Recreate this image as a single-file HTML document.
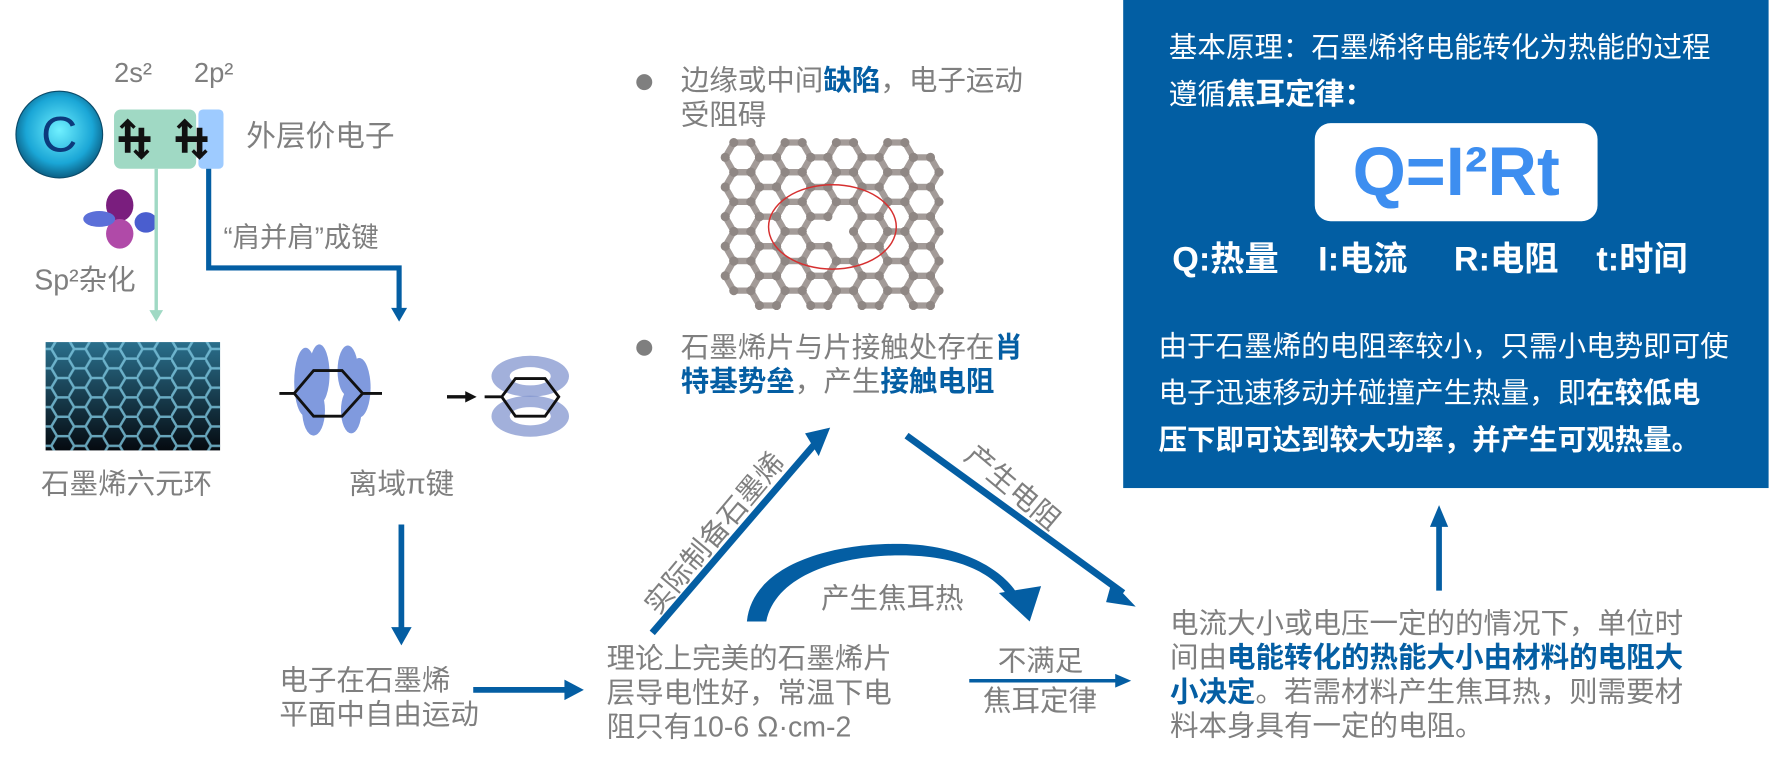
<!DOCTYPE html>
<html><head><meta charset="utf-8">
<style>
body{margin:0;width:1788px;height:765px;background:#fff;position:relative;overflow:hidden;font-family:"Liberation Sans","Noto Sans CJK SC",sans-serif;}
#wrap{position:absolute;left:0;top:0;width:1568px;height:671px;transform:scale(1.1403);transform-origin:0 0;}
.t{position:absolute;color:#7f7f7f;font-size:25px;line-height:30px;white-space:nowrap;}
.b{color:#045ea3;font-weight:bold;}
.w{color:#fff;}
.wb{color:#fff;font-weight:bold;}
svg{position:absolute;left:0;top:0;}
</style></head><body><div id="wrap">
<svg width="1568" height="671">
<defs>
<radialGradient id="cg" cx="50%" cy="45%" r="55%"><stop offset="0" stop-color="#6ff0ff"/><stop offset="0.7" stop-color="#1aa6d6"/><stop offset="1" stop-color="#0b5f84"/></radialGradient>
<pattern id="hx" width="30" height="17" patternUnits="userSpaceOnUse"><path d="M0 8.5 L5 0 L15 0 L20 8.5 L15 17 L5 17 Z M20 8.5 L30 8.5" fill="none" stroke="#7ec7e0" stroke-width="2.2"/></pattern>
<linearGradient id="gd" x1="0" y1="0" x2="0" y2="1"><stop offset="0" stop-color="#2a6f8c"/><stop offset="1" stop-color="#050a10"/></linearGradient>
</defs>
<rect x="985" y="0" width="566" height="428" fill="#025ea3"/>
<rect x="1153" y="108" width="248" height="86" rx="14" fill="#fff"/>
<circle cx="52" cy="118" r="38" fill="url(#cg)" stroke="#0a4b6a" stroke-width="1"/>
<text x="52" y="133" font-size="44" fill="#0c3a7c" text-anchor="middle" font-family="Liberation Sans">C</text>
<rect x="100" y="96" width="72" height="52" rx="6" fill="#a0d9c4"/>
<rect x="174" y="96" width="22" height="52" rx="4" fill="#9ecbff"/>
<g stroke="#111" stroke-width="5" fill="none">
<path d="M104 122 H132 M112 108 V134 M124 112 V138"/>
<path d="M154 122 H182 M162 108 V134 M175 112 V138"/>
</g>
<path d="M106 112 l6 -6 l6 6 M118 132 l6 6 l6 -6 M156 112 l6 -6 l6 6 M169 132 l6 6 l6 -6" stroke="#111" stroke-width="3" fill="none"/>
<ellipse cx="105" cy="180" rx="12" ry="14" fill="#7a1e7e"/>
<ellipse cx="105" cy="205" rx="12" ry="13" fill="#b04aa8"/>
<ellipse cx="87" cy="192" rx="14" ry="7" fill="#5b6fd8"/>
<ellipse cx="128" cy="195" rx="10" ry="9" fill="#4a5ecf"/>
<line x1="137" y1="148" x2="137" y2="274" stroke="#a0d9c4" stroke-width="3"/>
<path d="M131 272 L143 272 L137 282 Z" fill="#a0d9c4"/>
<path d="M183 148 V235 H350 V272" stroke="#045ea3" stroke-width="4.5" fill="none"/>
<path d="M343 270 L357 270 L350 282 Z" fill="#045ea3"/>
<rect x="40" y="300" width="153" height="95" fill="url(#gd)"/>
<rect x="40" y="300" width="153" height="95" fill="url(#hx)" opacity="0.8"/>
<g opacity="0.7" fill="#4a6fd0">
<ellipse cx="268" cy="335" rx="10" ry="30"/><ellipse cx="280" cy="328" rx="9" ry="26"/>
<ellipse cx="275" cy="360" rx="10" ry="22"/><ellipse cx="305" cy="325" rx="9" ry="22"/>
<ellipse cx="315" cy="340" rx="10" ry="26"/><ellipse cx="308" cy="360" rx="9" ry="20"/>
</g>
<path d="M258 345 L275 325 L300 325 L318 345 L300 365 L275 365 Z M245 345 H258 M318 345 H335" stroke="#111" stroke-width="2.5" fill="none"/>
<path d="M392 348 H410" stroke="#111" stroke-width="3"/><path d="M408 343 L418 348 L408 353Z" fill="#111"/>
<ellipse cx="465" cy="330" rx="34" ry="18" fill="#7b8fcc" opacity="0.7"/>
<ellipse cx="465" cy="330" rx="18" ry="8" fill="#fff"/>
<ellipse cx="465" cy="365" rx="34" ry="18" fill="#7b8fcc" opacity="0.7"/>
<ellipse cx="465" cy="365" rx="18" ry="8" fill="#fff"/>
<path d="M440 348 L452 332 L478 332 L490 348 L478 365 L452 365 Z M425 348 H440" stroke="#111" stroke-width="2.5" fill="none"/>
<line x1="352" y1="460" x2="352" y2="552" stroke="#045ea3" stroke-width="5"/>
<path d="M343 550 L361 550 L352 566 Z" fill="#045ea3"/>
<line x1="415" y1="605" x2="497" y2="605" stroke="#045ea3" stroke-width="5"/>
<path d="M495 596 L512 605 L495 614 Z" fill="#045ea3"/>
<g id="lat" stroke="#a39b98" stroke-width="5.5" fill="none" stroke-linejoin="round"></g>
<g id="atoms" fill="#8f8784"></g>
<ellipse cx="730" cy="199" rx="56" ry="37" fill="none" stroke="#d63030" stroke-width="1.3"/>
<circle cx="565" cy="72" r="7" fill="#7f7f7f"/>
<circle cx="565" cy="305" r="7" fill="#7f7f7f"/>
<line x1="572" y1="555" x2="714" y2="390" stroke="#045ea3" stroke-width="6"/>
<path d="M706 380 L728 375 L718 400 Z" fill="#045ea3"/>
<line x1="795" y1="382" x2="985" y2="520" stroke="#045ea3" stroke-width="6"/>
<path d="M975 510 L996 532 L970 528 Z" fill="#045ea3"/>
<path d="M655 545 C660 495 730 476 790 477 C845 478 880 500 893 522 L885 524 C870 502 840 487 790 487 C735 487 680 505 672 545 Z" fill="#045ea3"/>
<path d="M876 520 L913 514 L903 545 Z" fill="#045ea3"/>
<line x1="850" y1="597" x2="980" y2="597" stroke="#045ea3" stroke-width="3"/>
<path d="M978 591 L992 597 L978 603 Z" fill="#045ea3"/>
<line x1="1262" y1="518" x2="1262" y2="458" stroke="#045ea3" stroke-width="5"/>
<path d="M1254 462 L1262 443 L1270 462 Z" fill="#045ea3"/>
</svg>
<script>
(function(){var g=document.getElementById('lat'),a=document.getElementById('atoms');var r=15,ns='http://www.w3.org/2000/svg';var x0=651,y0=138;var cx=730,cy=199;var h=Math.sqrt(3)*r;
for(var c=0;c<8;c++){for(var k=0;k<7;k++){var x=x0+c*1.5*r,y=y0+k*h+(c%2?h/2:0);if(y>262)continue;
var dx=(x-cx)/34,dy=(y-cy)/20;if(dx*dx+dy*dy<1)continue;var d='';for(var i=0;i<6;i++){var an=Math.PI/3*i;var px=x+r*Math.cos(an),py=y+r*Math.sin(an);d+=(i?'L':'M')+px.toFixed(1)+' '+py.toFixed(1);var ci=document.createElementNS(ns,'circle');ci.setAttribute('cx',px);ci.setAttribute('cy',py);ci.setAttribute('r',4);a.appendChild(ci);}
var p=document.createElementNS(ns,'path');p.setAttribute('d',d+'Z');g.appendChild(p);}}})();
</script>
<div class="t" style="left:100px;top:50px;font-size:24px">2s²</div>
<div class="t" style="left:170px;top:50px;font-size:24px">2p²</div>
<div class="t" style="left:216px;top:104px;font-size:26px">外层价电子</div>
<div class="t" style="left:196px;top:194px;font-size:24px">“肩并肩”成键</div>
<div class="t" style="left:30px;top:231px;font-size:25px">Sp²杂化</div>
<div class="t" style="left:36px;top:410px">石墨烯六元环</div>
<div class="t" style="left:306px;top:410px">离域π键</div>
<div class="t" style="left:245px;top:582px">电子在石墨烯<br>平面中自由运动</div>
<div class="t" style="left:532px;top:563px">理论上完美的石墨烯片<br>层导电性好，常温下电<br>阻只有10-6 Ω·cm-2</div>
<div class="t" style="left:597px;top:56px">边缘或中间<span class="b">缺陷</span>，电子运动<br>受阻碍</div>
<div class="t" style="left:597px;top:290px">石墨烯片与片接触处存在<span class="b">肖</span><br><span class="b">特基势垒</span>，产生<span class="b">接触电阻</span></div>
<div class="t" style="left:627px;top:468px;transform:translate(-50%,-50%) rotate(-50deg);">实际制备石墨烯</div>
<div class="t" style="left:888px;top:428px;transform:translate(-50%,-50%) rotate(40deg);">产生电阻</div>
<div class="t" style="left:720px;top:510px">产生焦耳热</div>
<div class="t" style="left:875px;top:565px">不满足</div>
<div class="t" style="left:862px;top:600px">焦耳定律</div>
<div class="t" style="left:1026px;top:532px;line-height:30px">电流大小或电压一定的的情况下，单位时<br>间由<span class="b">电能转化的热能大小由材料的电阻大</span><br><span class="b">小决定</span>。若需材料产生焦耳热，则需要材<br>料本身具有一定的电阻。</div>
<div class="t w" style="left:1025px;top:22px;line-height:40px">基本原理：石墨烯将电能转化为热能的过程<br>遵循<span class="wb" style="font-size:26px">焦耳定律：</span></div>
<div class="t" style="left:1153px;top:116px;width:248px;text-align:center;color:#3d8ef0;font-weight:bold;font-size:60px;line-height:70px">Q=I²Rt</div>
<div class="t wb" style="left:1028px;top:211px;font-size:30px;line-height:34px;">Q:热量</div>
<div class="t wb" style="left:1156px;top:211px;font-size:30px;line-height:34px;">I:电流</div>
<div class="t wb" style="left:1275px;top:211px;font-size:30px;line-height:34px;">R:电阻</div>
<div class="t wb" style="left:1400px;top:211px;font-size:30px;line-height:34px;">t:时间</div>
<div class="t w" style="left:1016px;top:284px;line-height:41px">由于石墨烯的电阻率较小，只需小电势即可使<br>电子迅速移动并碰撞产生热量，即<span class="wb">在较低电</span><br><span class="wb">压下即可达到较大功率，并产生可观热量。</span></div>
</div></body></html>
